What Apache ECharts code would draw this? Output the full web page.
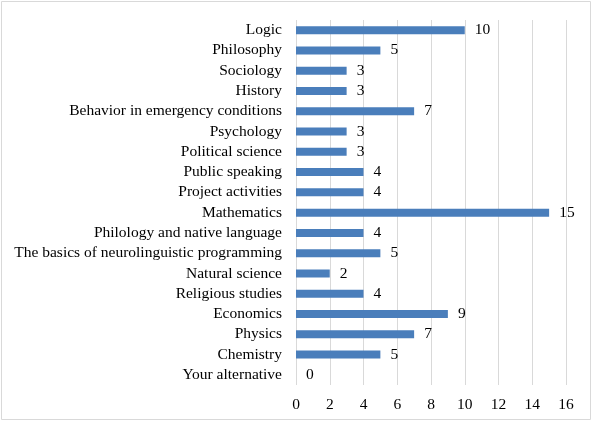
<!DOCTYPE html>
<html lang="en">
<head>
	<meta charset="UTF-8">
	<title>Courses</title>
	<script src="https://cdn.jsdelivr.net/npm/echarts@6/dist/echarts.min.js"></script>
	<style>
		body{margin:0;background:#fff}
	</style>
</head>
<body>
	<div id="app" style="width:595px;height:424px"></div>
	<script>
		// categories from bottom to top (category axis starts at the bottom)
		var subjects=["Your alternative","Chemistry","Physics","Economics","Religious studies","Natural science",
			"The basics of neurolinguistic programming","Philology and native language","Mathematics",
			"Project activities","Public speaking","Political science","Psychology",
			"Behavior in emergency conditions","History","Sociology","Philosophy","Logic"];
		var counts=[0,5,7,9,4,2,5,4,15,4,4,3,3,7,3,3,5,10];
		var xTicks=[0,2,4,6,8,10,12,14,16];

		var font="'Liberation Serif','Times New Roman',serif";
		var myChart=echarts.init(document.getElementById('app'));
		var option={
			animation:false,
			textStyle:{fontFamily:font},
			graphic:[{
				type:'rect',
				shape:{x:1.5,y:1.5,width:589,height:418},
				style:{fill:'none',stroke:'#d9d9d9',lineWidth:1}
			}],
			grid:{left:296,right:29,top:20,bottom:39},
			xAxis:{
				type:"value",
				min:xTicks[0],
				max:xTicks[xTicks.length-1],
				interval:2,
				axisLine:{show:false},
				axisTick:{show:false},
				splitLine:{lineStyle:{color:'#d9d9d9'}},
				axisLabel:{color:'#000',fontSize:15.5,fontFamily:font,margin:12}
			},
			yAxis:{
				type:"category",
				data:subjects,
				axisLine:{show:false},
				axisTick:{show:false},
				axisLabel:{interval:0,color:'#000',fontSize:15.5,fontFamily:font,margin:14}
			},
			series:[{
				type:"bar",
				data:counts,
				barWidth:8,
				itemStyle:{color:'#4a7ebb'},
				label:{
					show:true,
					position:'right',
					distance:10,
					color:'#000',
					fontSize:15.5,
					fontFamily:font
				}
			}]
		};
		myChart.setOption(option);
	</script>
</body>
</html>
